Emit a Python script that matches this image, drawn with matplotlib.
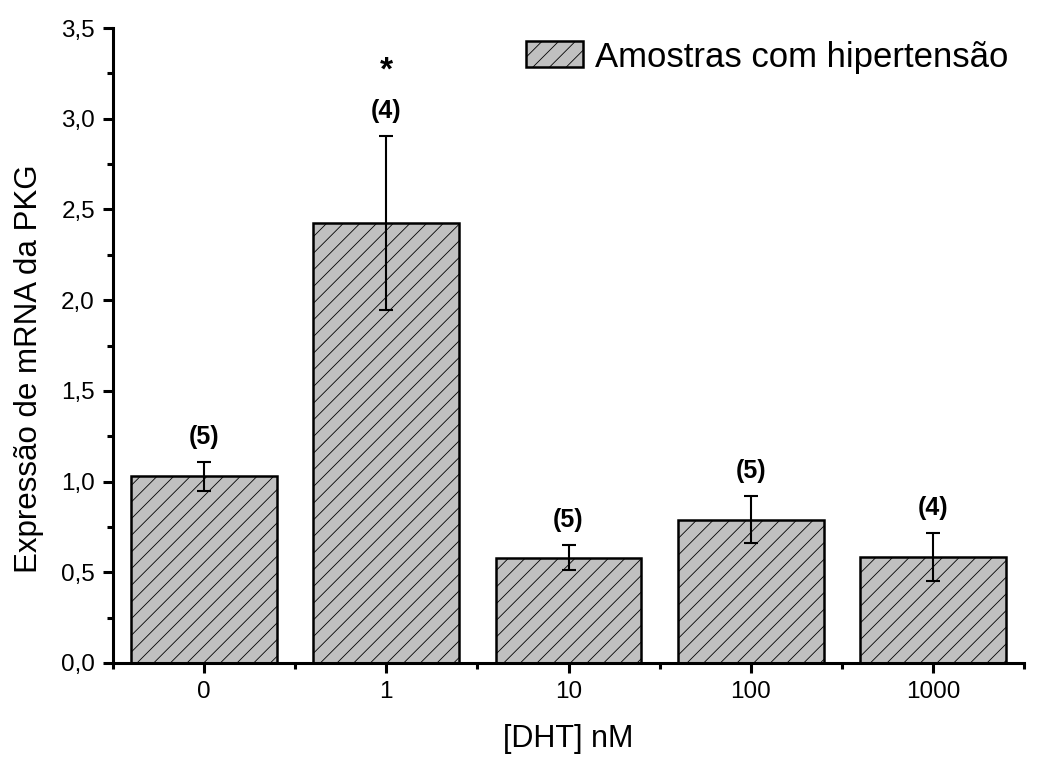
import matplotlib
matplotlib.use('Agg')

import numpy as np
import matplotlib.pyplot as plt
from matplotlib.ticker import MultipleLocator, FixedLocator, FuncFormatter

# dados
doses = ['0', '1', '10', '100', '1000']
media = [1.03, 2.425, 0.58, 0.79, 0.585]
erro = [0.08, 0.48, 0.07, 0.13, 0.133]
n_amostras = ['(5)', '(4)', '(5)', '(5)', '(4)']
signif = ['', '*', '', '', '']

plt.rcParams['font.family'] = ['Liberation Sans', 'DejaVu Sans']
plt.rcParams['hatch.color'] = '#5a5a5a'
plt.rcParams['hatch.linewidth'] = 0.6

fig = plt.figure(figsize=(10.59, 7.57), dpi=100)
ax = fig.add_axes([113 / 1059, 1 - 663 / 757, 911 / 1059, 635 / 757])

x = np.arange(len(doses))
ax.bar(x, media, width=0.8, color='#c0c0c0', edgecolor='black', linewidth=1.8,
       hatch='//', label='Amostras com hipertensão', zorder=2)
ax.errorbar(x, media, yerr=erro, fmt='none', ecolor='black', elinewidth=1.5,
            capsize=5, capthick=1.5, zorder=3)

for i in range(len(doses)):
    topo = media[i] + erro[i]
    ax.annotate(n_amostras[i], (x[i], topo), xytext=(0, 18), textcoords='offset points',
                ha='center', va='center', fontsize=18, fontweight='bold')
    if signif[i]:
        ax.annotate(signif[i], (x[i], topo), xytext=(0, 47), textcoords='offset points',
                    ha='center', va='center', fontsize=24, fontweight='bold')

ax.set_xlim(-0.5, 4.5)
ax.set_ylim(0, 3.5)
ax.set_xticks(x)
ax.set_xticklabels(doses)
ax.xaxis.set_minor_locator(FixedLocator(np.arange(-0.5, 4.6, 1.0)))
ax.yaxis.set_major_locator(MultipleLocator(0.5))
ax.yaxis.set_minor_locator(MultipleLocator(0.25))
ax.yaxis.set_major_formatter(FuncFormatter(lambda v, p: f'{v:.1f}'.replace('.', ',')))

for s in ['top', 'right']:
    ax.spines[s].set_visible(False)
for s in ['left', 'bottom']:
    ax.spines[s].set_linewidth(2.2)

ax.tick_params(which='major', length=7, width=2.2, labelsize=17.5, direction='out', pad=6)
ax.tick_params(which='minor', length=4, width=2.2, direction='out')

ax.set_xlabel('[DHT] nM', fontsize=22, labelpad=15)
ax.set_ylabel('Expressão de mRNA da PKG', fontsize=22.5)
ax.yaxis.set_label_coords(-0.0752, 0.463)

ax.legend(loc='center left', bbox_to_anchor=(526 / 1059, 1 - 57 / 757),
          bbox_transform=fig.transFigure, frameon=False, fontsize=25,
          borderaxespad=0, borderpad=0, handlelength=1.64, handleheight=0.78,
          handletextpad=0.35)

fig.savefig('out.png', dpi=100)
